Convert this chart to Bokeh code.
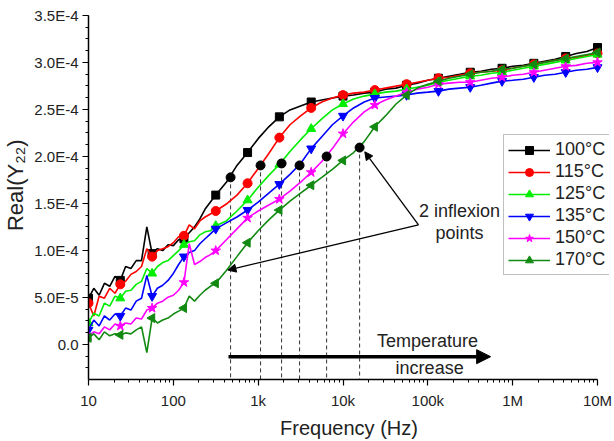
import numpy as np
from bokeh.plotting import figure
from bokeh.models import (FixedTicker, CustomJSTickFormatter, Arrow, NormalHead,
                          Label, Legend, LegendItem, Range1d)
from bokeh.embed import file_html
from bokeh.resources import INLINE

FONT = "Liberation Sans"

# measurement frequencies (Hz)
freq = [10, 11.55, 13.34, 15.40, 17.78, 20.54, 23.71, 27.38, 31.62, 36.52, 42.17, 48.70,
        56.23, 64.94, 74.99, 86.60, 100, 115.5, 133.4, 154.0, 177.8, 205.4, 237.1, 273.8, 316.2,
        421.7, 562.3, 749.9, 1000, 1334, 1778, 2371, 3162, 4217, 5623, 7499,
        1.0e4, 1.334e4, 1.778e4, 2.371e4, 3.162e4, 4.217e4, 5.623e4, 7.499e4,
        1.0e5, 1.334e5, 1.778e5, 2.371e5, 3.162e5, 4.217e5, 5.623e5, 7.499e5,
        1.0e6, 1.334e6, 1.778e6, 2.371e6, 3.162e6, 4.217e6, 5.623e6, 7.499e6, 1.0e7]

UNIT = 1e-5  # values below are in units of 1e-5 S

re_100 = [4.90, 5.96, 5.22, 6.49, 6.17, 7.23, 6.80, 8.28, 8.07, 8.91, 8.91, 12.50, 9.65, 10.18,
          9.97, 10.60, 10.50, 11.13, 11.23, 11.87, 12.50, 13.34, 14.40, 15.14, 15.88,
          17.25, 19.04, 20.41, 21.89, 23.15, 24.21, 24.95, 25.37, 25.79, 26.00, 26.21, 26.42,
          26.53, 26.74, 26.84, 27.16, 27.27, 27.58, 27.80, 28.11, 28.32, 28.53, 28.74, 28.96,
          29.06, 29.27, 29.38, 29.59, 29.69, 29.91, 30.12, 30.33, 30.64, 30.96, 31.17, 31.59]
re_115 = [4.38, 3.01, 5.12, 4.90, 5.96, 5.43, 6.38, 6.70, 7.44, 7.75, 8.28, 10.18, 9.33, 9.97,
          10.18, 10.39, 10.81, 11.44, 11.55, 12.71, 12.29, 13.13, 13.55, 13.87, 14.19,
          14.93, 15.88, 17.14, 18.72, 20.31, 22.00, 23.37, 24.31, 25.16, 25.79, 26.21, 26.53,
          26.74, 26.84, 27.06, 27.27, 27.48, 27.69, 27.90, 28.11, 28.32, 28.43, 28.64, 28.85,
          28.96, 29.06, 29.17, 29.38, 29.59, 29.80, 30.01, 30.22, 30.43, 30.54, 30.75, 30.96]
re_125 = [2.27, 3.32, 3.01, 4.38, 4.06, 5.12, 4.90, 5.64, 5.75, 6.38, 6.70, 8.07, 7.54, 8.28,
          8.70, 8.91, 9.44, 9.97, 10.60, 10.92, 11.02, 11.65, 11.97, 12.08, 12.61,
          13.13, 14.19, 15.34, 16.72, 17.98, 19.14, 20.52, 21.78, 22.94, 24.00, 24.95, 25.58,
          26.11, 26.42, 26.63, 26.84, 26.95, 27.16, 27.37, 27.58, 27.90, 28.11, 28.32, 28.53,
          28.64, 28.85, 28.96, 29.17, 29.38, 29.59, 29.80, 30.01, 30.22, 30.43, 30.64, 30.85]
re_135 = [1.53, 2.58, 1.95, 3.01, 2.58, 3.22, 3.01, 3.85, 3.64, 4.59, 4.90, 7.33, 5.12, 5.96,
          6.28, 6.80, 7.54, 8.49, 9.33, 9.76, 9.97, 10.70, 11.23, 11.76, 12.29,
          12.92, 13.55, 14.29, 15.14, 16.09, 17.04, 18.09, 19.25, 20.83, 22.10, 23.37, 24.31,
          25.16, 25.79, 26.21, 26.32, 26.42, 26.53, 26.74, 26.84, 26.95, 27.16, 27.27, 27.37,
          27.58, 27.80, 28.01, 28.11, 28.22, 28.43, 28.64, 28.74, 28.96, 29.17, 29.27, 29.48]
re_150 = [0.90, 1.32, 1.11, 1.85, 1.53, 2.16, 1.95, 2.27, 2.16, 2.79, 2.69, 3.64, 3.85, 4.38,
          4.59, 5.01, 5.22, 5.75, 6.59, 10.70, 8.49, 8.81, 9.23, 9.54, 9.97,
          11.13, 12.29, 13.45, 14.19, 14.82, 15.45, 16.30, 17.25, 18.30, 19.46, 20.83, 22.42,
          23.68, 24.74, 25.47, 26.00, 26.42, 26.84, 27.16, 27.37, 27.69, 27.80, 27.90, 27.90,
          28.11, 28.32, 28.43, 28.64, 28.74, 28.96, 29.17, 29.38, 29.59, 29.69, 29.91, 30.01]
re_170 = [0.69, 1.11, 0.48, 1.32, 0.90, 1.11, 1.00, 1.21, 1.11, 1.53, 1.85, -0.89, 2.79, 2.27,
          2.58, 2.79, 3.22, 3.53, 3.85, 5.12, 4.59, 5.22, 5.75, 6.17, 6.49,
          7.86, 9.33, 10.81, 12.08, 13.24, 14.29, 15.24, 16.09, 16.93, 17.77, 18.62, 19.57,
          20.41, 21.57, 23.15, 24.31, 25.58, 26.53, 27.27, 27.69, 28.01, 28.32, 28.53, 28.74,
          28.96, 29.06, 29.27, 29.38, 29.59, 29.80, 30.01, 30.22, 30.43, 30.64, 30.85, 31.07]

labels = ["100°C", "115°C", "125°C", "135°C", "150°C", "170°C"]
series = [re_100, re_115, re_125, re_135, re_150, re_170]
colors = ["#000000", "#ff0000", "#00ee00", "#0000ff", "#ff00ff", "#128a12"]
markers = ["square", "circle", "triangle", "inverted_triangle", "star", "triangle"]
marker_angles = [0, 0, 0, 0, 0, np.pi / 2]
marker_sizes = [8, 9, 9, 9, 10, 9]

# every marked sample of the sweep
mark_idx = list(range(0, 25, 6)) + list(range(27, 61, 3))

# inflection points (black dots)
infl_freq = [473, 1067, 1888, 3077, 6412, 15700]
infl_val = [17.77, 19.04, 19.25, 19.04, 19.99, 20.94]
# second inflection point of the 170°C curve (arrow target)
infl2_freq = 440
infl2_val = 7.9

y_ticks = [0, 5e-5, 1e-4, 1.5e-4, 2e-4, 2.5e-4, 3e-4, 3.5e-4]
x_ticks = [10, 100, 1e3, 1e4, 1e5, 1e6, 1e7]

Y_MIN, Y_MAX = -3.75e-5, 3.5e-4
X_MIN, X_MAX, X_VIEW_MAX = 10, 1e7, 1.385e7

p = figure(width=614, height=441, x_axis_type="log",
           x_range=Range1d(X_MIN, X_VIEW_MAX), y_range=Range1d(Y_MIN, Y_MAX),
           output_backend="svg", toolbar_location=None,
           min_border_left=88, min_border_right=5, min_border_top=15, min_border_bottom=59)
p.outline_line_color = None
p.grid.visible = False
p.background_fill_color = "white"

# axes
minor_x = [m * 10 ** e for e in range(1, 7) for m in range(2, 10)]
p.xaxis.ticker = FixedTicker(ticks=x_ticks, minor_ticks=minor_x)
p.xaxis.bounds = (X_MIN, X_MAX)
p.xaxis.formatter = CustomJSTickFormatter(code="""
const m = {1:"10",2:"100",3:"1k",4:"10k",5:"100k",6:"1M",7:"10M"};
return m[Math.round(Math.log10(tick))];
""")
p.yaxis.ticker = FixedTicker(ticks=y_ticks, minor_ticks=[k * 1.25e-5 for k in range(-3, 29)])
p.yaxis.formatter = CustomJSTickFormatter(code="""
if (Math.abs(tick) < 1e-12) return "0.0";
const e = Math.floor(Math.log10(Math.abs(tick)) + 1e-9);
const m = tick / Math.pow(10, e);
return m.toFixed(1) + "E" + e;
""")
for ax in (p.xaxis[0], p.yaxis[0]):
    ax.axis_line_width = 1.5
    ax.axis_line_color = "black"
    ax.major_tick_out = 6
    ax.major_tick_in = 0
    ax.minor_tick_out = 3
    ax.minor_tick_in = 0
    ax.major_tick_line_width = 1.2
    ax.minor_tick_line_width = 1
    ax.major_label_text_font = FONT
    ax.major_label_text_font_size = "15px"
    ax.major_label_text_color = "#222222"
    ax.axis_label_text_font = FONT
    ax.axis_label_text_font_style = "normal"
    ax.axis_label_text_color = "#222222"
p.xaxis.axis_label = "Frequency (Hz)"
p.xaxis.axis_label_text_font_size = "20px"
p.xaxis.major_label_standoff = 6
p.xaxis.axis_label_standoff = 5
# leading no-break spaces shift the rotated title up to where the reference has it
p.yaxis.axis_label = "\u00a0\u00a0\u00a0\u00a0Real(Y₂₂)"
p.yaxis.axis_label_text_font_size = "22px"
p.yaxis.major_label_standoff = 4
p.yaxis.axis_label_standoff = 3

# dashed drop lines from inflection points
p.segment(x0=infl_freq, y0=[v * UNIT for v in infl_val], x1=infl_freq,
          y1=[Y_MIN] * len(infl_freq), line_color="#333333", line_width=1, line_dash="4 3")

items = []
for lab, vals, col, mk, ang, ms in zip(labels, series, colors, markers, marker_angles, marker_sizes):
    yv = [v * UNIT for v in vals]
    lr = p.line(freq, yv, line_color=col, line_width=1.6)
    mx = [freq[i] for i in mark_idx]
    my = [yv[i] for i in mark_idx]
    sr = p.scatter(mx, my, marker=mk, angle=ang, size=ms, fill_color=col, line_color=col)
    items.append(LegendItem(label=lab, renderers=[lr, sr]))

p.scatter(infl_freq, [v * UNIT for v in infl_val], marker="circle", size=9,
          fill_color="black", line_color="black")

# annotation arrows
vx, vy = 7.76e4, 1.271e-4
p.add_layout(Arrow(end=NormalHead(size=8, fill_color="black", line_color="black"),
                   x_start=vx, y_start=vy, x_end=infl_freq[-1] * 1.15, y_end=infl_val[-1] * UNIT - 0.45e-5,
                   line_width=1.3, line_color="black"))
p.add_layout(Arrow(end=NormalHead(size=8, fill_color="black", line_color="black"),
                   x_start=vx, y_start=vy, x_end=infl2_freq, y_end=infl2_val * UNIT,
                   line_width=1.3, line_color="black"))
p.add_layout(Arrow(end=NormalHead(size=14, fill_color="black", line_color="black"),
                   x_start=447, y_start=-1.32e-5, x_end=5.5e5, y_end=-1.32e-5,
                   line_width=3.5, line_color="black"))

for txt, x, y in [("2 inflexion", 2.36e5, 1.419e-4), ("points", 2.36e5, 1.187e-4),
                  ("Temperature", 9.9e4, 0.37e-5), ("increase", 1.05e5, -2.48e-5)]:
    p.add_layout(Label(x=x, y=y, text=txt, text_align="center", text_baseline="middle",
                       text_font=FONT, text_font_size="18px", text_color="#222222"))

legend = Legend(items=items, location=(415, 104), label_text_font=FONT,
                label_text_font_size="18px", label_text_color="#222222",
                glyph_width=42, glyph_height=20, label_height=20, spacing=1,
                padding=4, label_standoff=5, margin=0,
                border_line_color="#808080", border_line_width=1,
                background_fill_color="white", background_fill_alpha=1)
p.add_layout(legend)

open("out.html", "w").write(file_html(p, INLINE))
